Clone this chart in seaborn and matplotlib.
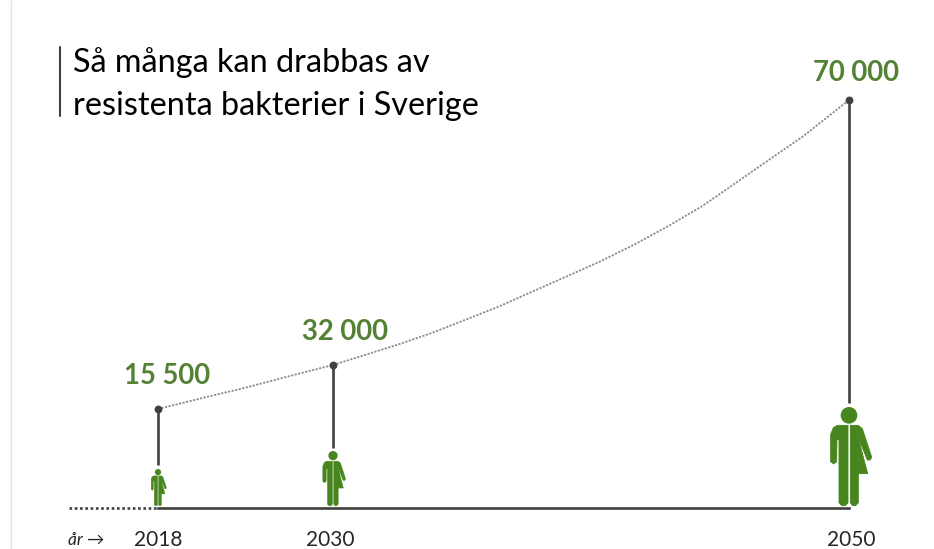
import numpy as np
import pandas as pd
import matplotlib.pyplot as plt
from matplotlib.lines import Line2D
from matplotlib.patches import Circle, Polygon
from matplotlib.transforms import Affine2D, ScaledTranslation

import seaborn as sns
sns.set_style("white")
plt.rcParams["font.family"] = ["Lato", "DejaVu Sans"]

# the chart is not to scale, so both axes are piecewise
YEAR_ANCHORS = [2007.18, 2018, 2030, 2050, 2053.3]
YEAR_PIXELS = [0, 158, 333, 849, 934]
VALUE_ANCHORS = [0, 15500, 32000, 70000, 84340]
VALUE_PIXELS = [0, 99, 143, 408, 508]

years = [2018, 2030, 2050]
values = [15500, 32000, 70000]
labels = ["15 500", "32 000", "70 000"]
stem_bottoms = [6730, 9400, 17750]

curve_years = [2018, 2021.1, 2024, 2027.3, 2030, 2032.49, 2033.8, 2035.12, 2036.43, 2037.74,
               2039.05, 2040.36, 2041.67, 2042.98, 2044.3, 2045.61, 2046.92, 2048.23, 2050]
curve_values = [15500, 19700, 23500, 28250, 32000, 34900, 36550, 38470, 40390, 42540,
                44690, 46860, 49250, 51890, 54760, 58110, 61470, 64820, 70000]

person_heights = [37, 55, 99]
label_offsets = [(9.5, 20), (11.5, 20), (7, 14)]
tick_nudges = [0.5, -2.5, 2.5]

DARK = "#404040"
GREEN = "#548235"
ICON_GREEN = "#47851f"

# outline read from the 2050 icon, normalised below
MALE_SIDE = [(174, 108), (142, 108), (130, 115), (122, 135), (122, 217), (131, 224), (140, 217),
             (141, 150), (147, 150), (147, 340), (155, 349), (166, 349), (174, 340)]
FEMALE_SIDE = [(181, 108), (205, 108), (217, 118), (245, 203), (241, 212), (232, 212),
               (204, 142), (233, 253), (205, 253), (205, 340), (197, 349), (188, 349), (181, 340)]


def unit_shape(points):
    pts = np.array(points, dtype=float)
    return np.column_stack([(pts[:, 0] - 177) / 297, (350 - pts[:, 1]) / 297])


def draw_person(ax, year, height):
    x0, y0 = ax.transData.transform((year, 0))
    trans = Affine2D().scale(height).translate(x0, y0 + 2)
    for side in [MALE_SIDE, FEMALE_SIDE]:
        ax.add_patch(Polygon(unit_shape(side), closed=True, facecolor=ICON_GREEN, edgecolor=ICON_GREEN,
                             linewidth=height * 0.006, joinstyle="round",
                             transform=trans, clip_on=False, zorder=4))
    ax.add_patch(Circle((0, (350 - 78) / 297), 25 / 297, facecolor=ICON_GREEN, edgecolor="none",
                        transform=trans, clip_on=False, zorder=4))


fig = plt.figure(figsize=(9.34, 5.49), dpi=100)
ax = fig.add_axes([0, 41 / 549, 1, 508 / 549])

ax.set_xscale("function", functions=(lambda v: np.interp(v, YEAR_ANCHORS, YEAR_PIXELS),
                                     lambda p: np.interp(p, YEAR_PIXELS, YEAR_ANCHORS)))
ax.set_yscale("function", functions=(lambda v: np.interp(v, VALUE_ANCHORS, VALUE_PIXELS),
                                     lambda p: np.interp(p, VALUE_PIXELS, VALUE_ANCHORS)))

curve_df = pd.DataFrame({"year": curve_years, "value": curve_values})
points_df = pd.DataFrame({"year": years, "value": values})

sns.lineplot(x="year", y="value", data=curve_df, ax=ax, color="#8c8c8c", linewidth=1.3,
             linestyle=(0, (1.2, 0.8)), estimator=None, sort=False, zorder=2)
ax.vlines(years, stem_bottoms, values, color=DARK, linewidth=1.9, zorder=3)
sns.scatterplot(x="year", y="value", data=points_df, ax=ax, color=DARK, s=32, linewidth=0,
                zorder=5, clip_on=False)

ax.set_xlim(YEAR_ANCHORS[0], YEAR_ANCHORS[-1])
ax.set_ylim(VALUE_ANCHORS[0], VALUE_ANCHORS[-1])
ax.set_xlabel("")
ax.set_ylabel("")
ax.set_yticks([])
ax.set_xticks(years)
ax.set_xticklabels([str(y) for y in years], fontsize=15, color="#262626")
ax.tick_params(axis="x", length=0, pad=16, bottom=False)
ax.minorticks_off()
for tick_label, nudge in zip(ax.get_xticklabels(), tick_nudges):
    tick_label.set_transform(tick_label.get_transform() + ScaledTranslation(nudge / 100, 0, fig.dpi_scale_trans))

for name in ["top", "left", "right"]:
    ax.spines[name].set_visible(False)
ax.spines["bottom"].set_bounds(years[0], years[-1])
ax.spines["bottom"].set_linewidth(1.9)
ax.spines["bottom"].set_color(DARK)

# dotted lead-in left of 2018
ax.plot([2011.9, 2018], [0, 0], color=DARK, linewidth=1.9, linestyle=(0, (1, 1)), clip_on=False)

for year, value, label, offset in zip(years, values, labels, label_offsets):
    ax.annotate(label, (year, value), xytext=offset, textcoords="offset pixels", ha="center",
                va="bottom", fontsize=19.8, fontweight="bold", color=GREEN)

fig.canvas.draw()
for year, height in zip(years, person_heights):
    draw_person(ax, year, height)

fig.text(73 / 934, 1 - 72 / 549, "Så många kan drabbas av", fontsize=23.3, color="black",
         va="baseline", ha="left")
fig.text(73 / 934, 1 - 115 / 549, "resistenta bakterier i Sverige", fontsize=23.3, color="black",
         va="baseline", ha="left")
fig.text(86 / 934, 1 - 540 / 549, "år →", fontsize=12.5, style="italic", color="#262626",
         va="center", ha="center")
fig.add_artist(Line2D([60 / 934, 60 / 934], [1 - 47 / 549, 1 - 116 / 549], color=DARK, linewidth=1.5))
fig.add_artist(Line2D([10.5 / 934, 10.5 / 934], [0, 1], color="#e3e3e3", linewidth=1))

fig.savefig("out.png", dpi=100)
